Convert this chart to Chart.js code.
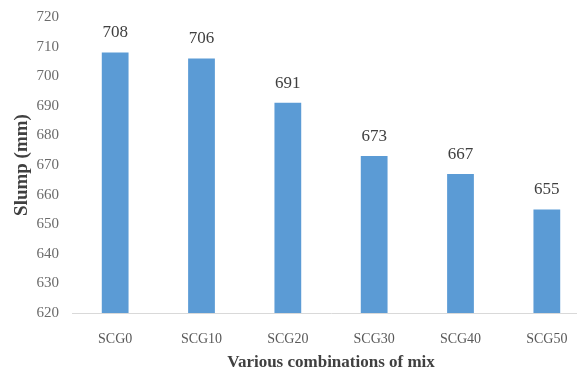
<!DOCTYPE html>
<html>
<head>
<meta charset="utf-8">
<script src="https://cdn.jsdelivr.net/npm/chart.js@4/dist/chart.umd.min.js"></script>
<style>
  html, body { margin: 0; padding: 0; background: #ffffff; overflow: hidden; }
  #wrap { width: 592px; height: 376px; }
</style>
</head>
<body>
<div id="wrap"><canvas id="chart" width="592" height="376"></canvas></div>
<script>
// Slump of each mix
const mixes = ['SCG0', 'SCG10', 'SCG20', 'SCG30', 'SCG40', 'SCG50'];
const slump = [708, 706, 691, 673, 667, 655];
const yMin = 620;
const yMax = 720;
const yStep = 10;

const serif = '"Liberation Serif", "Times New Roman", serif';

// Writes each bar's value above it
const valueLabels = {
  id: 'valueLabels',
  afterDatasetsDraw(chart) {
    const ctx = chart.ctx;
    const meta = chart.getDatasetMeta(0);
    ctx.save();
    ctx.font = '17px ' + serif;
    ctx.fillStyle = '#404040';
    ctx.textAlign = 'center';
    ctx.textBaseline = 'bottom';
    meta.data.forEach((bar, i) => {
      ctx.fillText(String(chart.data.datasets[0].data[i]), bar.x, bar.y - 11);
    });
    ctx.restore();
  }
};

new Chart(document.getElementById('chart'), {
  type: 'bar',
  data: {
    labels: mixes,
    datasets: [{
      data: slump,
      backgroundColor: '#5B9BD5',
      borderWidth: 0,
      barPercentage: 0.31,
      categoryPercentage: 1.0
    }]
  },
  options: {
    responsive: false,
    animation: false,
    events: [],
    layout: { padding: { top: 17, right: 2, left: 0, bottom: 0 } },
    plugins: {
      legend: { display: false },
      tooltip: { enabled: false }
    },
    scales: {
      x: {
        grid: { display: false, drawTicks: false },
        border: { display: true, color: '#D9D9D9', width: 1 },
        ticks: {
          color: '#595959',
          font: { family: serif, size: 14 },
          padding: 18,
          maxRotation: 0
        },
        title: {
          display: true,
          text: 'Various combinations of mix',
          color: '#404040',
          font: { family: serif, size: 17, weight: 'bold' },
          padding: { top: 0, bottom: 3 }
        },
        afterFit(scale) { scale.height = 63; }
      },
      y: {
        min: yMin,
        max: yMax,
        grid: { display: false, drawTicks: false },
        border: { display: false },
        ticks: {
          stepSize: yStep,
          color: '#6b6b6b',
          font: { family: serif, size: 15 },
          padding: 13
        },
        title: {
          display: true,
          text: 'Slump (mm)',
          color: '#404040',
          font: { family: serif, size: 19, weight: 'bold' },
          padding: { top: 11, bottom: 0 }
        },
        afterFit(scale) {
          scale.width = 72;
          scale.paddingTop = 0;
          scale.paddingBottom = 0;
        }
      }
    }
  },
  plugins: [valueLabels]
});
</script>
</body>
</html>
